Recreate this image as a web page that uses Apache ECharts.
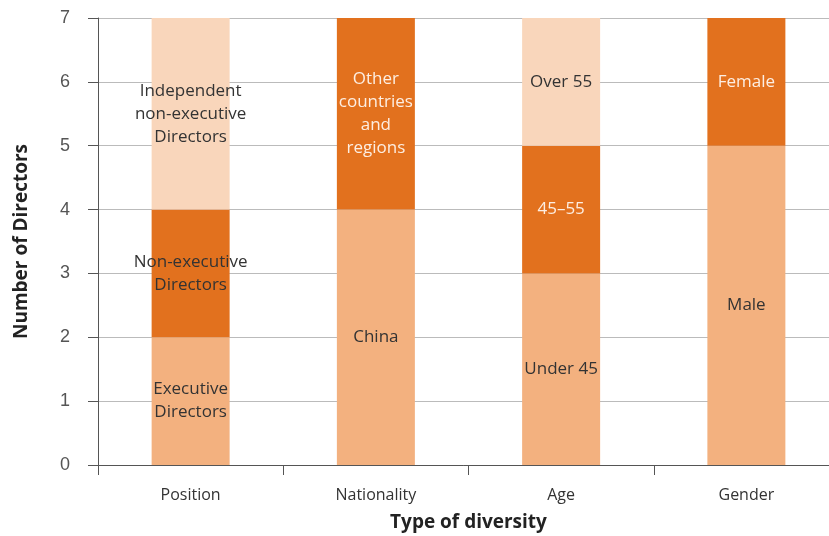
<!DOCTYPE html>
<html><head><meta charset="utf-8">
<script src="https://cdn.jsdelivr.net/npm/echarts@6/dist/echarts.min.js"></script>
<style>html,body{margin:0;padding:0;background:#fff}#c{width:829px;height:536px}</style>
</head><body><div id="c"></div>
<script>
const categories = ['Position', 'Nationality', 'Age', 'Gender'];
const bottomValues = [2, 4, 3, 5];
const bottomLabels = ['Executive\nDirectors', 'China', 'Under 45', 'Male'];
const middleValues = [2, 3, 2, 2];
const middleLabels = ['Non-executive\nDirectors', 'Other\ncountries\nand\nregions', '45–55', 'Female'];
const topValues = [3, 0, 2, 0];
const topLabels = ['Independent\nnon-executive\nDirectors', '', 'Over 55', ''];
const yTicks = [0, 1, 2, 3, 4, 5, 6, 7];

const FONT = 'Open Sans';
const labelBase = {show: true, position: 'inside', fontFamily: FONT, fontSize: 17, lineHeight: 23};

function mk(vals, labs, labelColorFn) {
  return vals.map((v, i) => ({
    value: v,
    label: Object.assign({}, labelBase, {formatter: labs[i], color: labelColorFn(i), show: v > 0})
  }));
}

const chart = echarts.init(document.getElementById('c'));
chart.setOption({
  animation: false,
  grid: {left: 98, right: -10, top: 18, bottom: 71, containLabel: false, outerBoundsMode: 'none'},
  xAxis: {
    type: 'category', data: categories,
    name: 'Type of diversity', nameLocation: 'middle', nameGap: 48,
    nameTextStyle: {fontFamily: FONT, fontWeight: 'bold', fontSize: 19, color: '#222'},
    axisLine: {lineStyle: {color: '#555', width: 1}},
    axisTick: {show: true, length: 10, lineStyle: {color: '#555'}},
    axisLabel: {fontFamily: FONT, fontSize: 16, color: '#333', margin: 22}
  },
  yAxis: {
    type: 'value', min: 0, max: 7, interval: 1,
    name: 'Number of Directors', nameLocation: 'middle', nameGap: 67, nameRotate: 90,
    nameTextStyle: {fontFamily: FONT, fontWeight: 'bold', fontSize: 19, color: '#222'},
    axisLine: {show: true, lineStyle: {color: '#555', width: 1}},
    axisTick: {show: true, length: 10, lineStyle: {color: '#555'}},
    axisLabel: {fontFamily: 'Liberation Sans', fontSize: 18, color: '#555', margin: 28,
      formatter: v => yTicks.includes(v) ? String(v) : ''},
    splitLine: {show: true, lineStyle: {color: '#bbb', width: 1}}
  },
  series: [
    {type: 'bar', stack: 's', barWidth: 78, itemStyle: {color: '#F3B17F'},
     data: mk(bottomValues, bottomLabels, () => '#333')},
    {type: 'bar', stack: 's', barWidth: 78, itemStyle: {color: '#E2711E'},
     data: mk(middleValues, middleLabels, i => i === 0 ? '#333' : '#fdeee2')},
    {type: 'bar', stack: 's', barWidth: 78, itemStyle: {color: '#F9D6BB'},
     data: mk(topValues, topLabels, () => '#333')}
  ]
});
</script></body></html>
